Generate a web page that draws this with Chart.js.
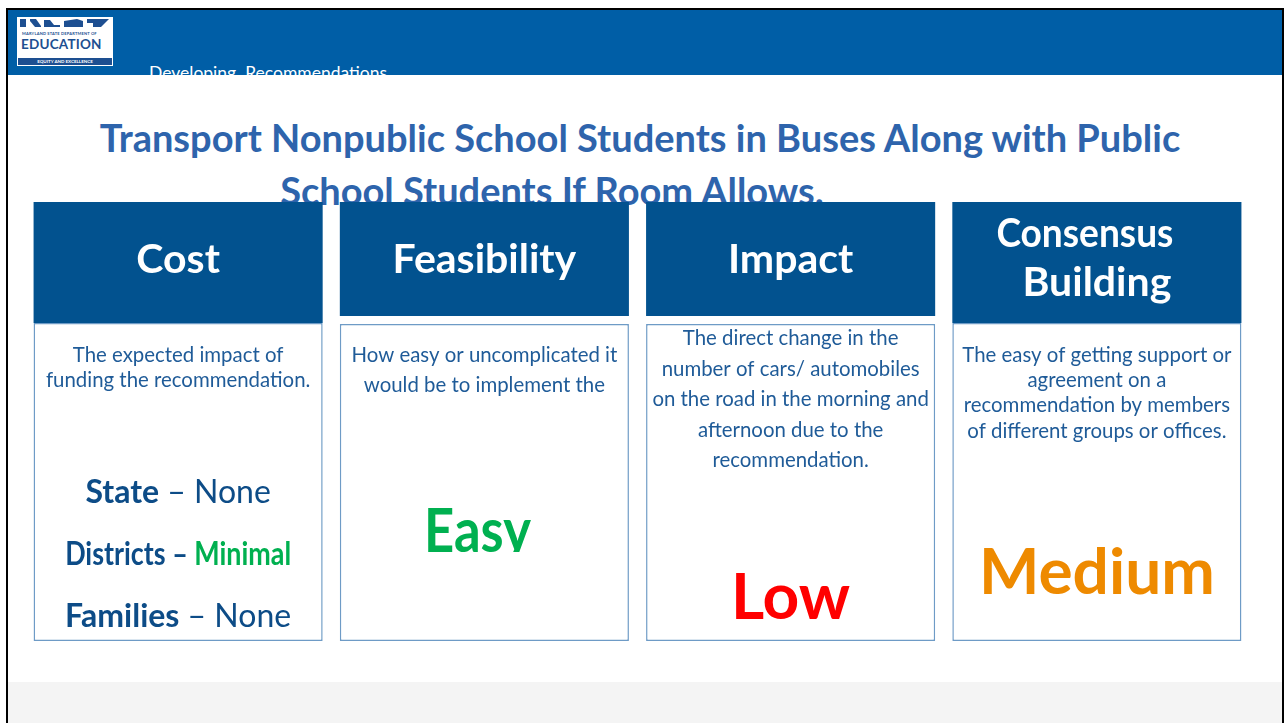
<!DOCTYPE html>
<html>
<head>
<meta charset="utf-8">
<script src="https://cdn.jsdelivr.net/npm/chart.js@4.4.1/dist/chart.umd.min.js"></script>
<style>
  html, body { margin: 0; padding: 0; background: #fff; }
  body { width: 1285px; height: 723px; position: relative; overflow: hidden; font-family: Lato, "Open Sans", sans-serif; }
  #frame { position: absolute; left: 6px; top: 8px; width: 1274px; height: 730px; border: 2px solid #000; border-bottom: none; }
  #band { position: absolute; left: 8px; top: 10px; width: 1274px; height: 65px; background: #005EA6; overflow: hidden; }
  #band .sub { position: absolute; left: 141px; top: 54px; color: #fff; font-size: 17.5px; line-height: 17.5px; white-space: nowrap; }
  #logo { position: absolute; left: 9px; top: 7px; width: 96px; height: 49px; background: #fff; }
  #logo .msd { position: absolute; left: 5px; top: 14px; font-size: 4px; letter-spacing: 0.2px; color: #1d4f91; white-space: nowrap; font-weight: bold; }
  #logo .edu { position: absolute; left: 4px; top: 20px; font-size: 13.5px; line-height: 14px; font-weight: bold; color: #1d4f91; letter-spacing: 0.2px; }
  #logo .eq { position: absolute; left: 1px; top: 41px; width: 94px; height: 7px; background: #1d4f91; color: #fff; font-size: 4.5px; line-height: 7px; text-align: center; font-weight: bold; }
  #gray { position: absolute; left: 8px; top: 682px; width: 1274px; height: 41px; background: #f4f4f4; }
  #title { position: absolute; left: 0; top: 112px; width: 1280px; text-align: center; color: #2E64AC; font-size: 38px; line-height: 50px; font-weight: bold; }
  #title .l2 { position: relative; left: -88px; top: 3px; }
  #c { position: absolute; left: 0; top: 0; z-index: 2; }
</style>
</head>
<body>
<div id="frame"></div>
<div id="band">
  <div id="logo">
    <svg width="96" height="14" style="position:absolute;left:0;top:0">
      <polygon fill="#1d4f91" points="3,2 9,2 9,10 3,10"/>
      <polygon fill="#1d4f91" points="13,2 19,2 24,9 24,10 18,10 13,4"/>
      <polygon fill="#1d4f91" points="27,3 33,3 37,8 43,8 43,10 27,10"/>
      <polygon fill="#1d4f91" points="47,4 60,2 66,4 66,10 47,10"/>
      <polygon fill="#1d4f91" points="70,2 92,2 88,6 84,10 76,10 76,6 70,6"/>
    </svg>
    <div class="msd">MARYLAND STATE DEPARTMENT OF</div>
    <div class="edu">EDUCATION</div>
    <div class="eq">EQUITY AND EXCELLENCE</div>
  </div>
  <div class="sub">Developing&nbsp; Recommendations</div>
</div>
<div id="gray"></div>
<div id="title">Transport Nonpublic School Students in Buses Along with Public<br><span class="l2">School Students If Room Allows.</span></div>
<canvas id="c" width="1285" height="723"></canvas>
<script>
const categories = ['Cost', 'Feasibility', 'Impact', 'Consensus Building'];
const headerLines = [['Cost'], ['Feasibility'], ['Impact'], ['Consensus', 'Building']];
const descriptions = [
  ['The expected impact of', 'funding the recommendation.'],
  ['How easy or uncomplicated it', 'would be to implement the'],
  ['The direct change in the', 'number of cars/ automobiles', 'on the road in the morning and', 'afternoon due to the', 'recommendation.'],
  ['The easy of getting support or', 'agreement on a', 'recommendation by members', 'of different groups or offices.']
];
const ratings = ['', 'Easy', 'Low', 'Medium'];
const ratingColors = ['', '#00B050', '#FF0000', '#EE8A00'];
const costGroups = ['State', 'Districts', 'Families'];
const costLevels = ['None', 'Minimal', 'None'];
const costLevelColors = ['#0D4C87', '#00B050', '#0D4C87'];

// box layout, in pixels above the bottom of the boxes
const yTop = 439;
const headerFloor = [318, 325, 325, 318];
const bodyTop = [318, 317, 317, 318];

const descColor = '#1F5B98';
const font = 'Lato, "Open Sans", sans-serif';

function drawRich(ctx, segs, cx, y, fitWidth) {
  let total = 0;
  segs.forEach(s => { ctx.font = s.font; s.w = ctx.measureText(s.text).width; total += s.w; });
  const k = fitWidth ? fitWidth / total : 1;
  ctx.save();
  ctx.translate(cx - total * k / 2, y);
  ctx.scale(k, 1);
  let x = 0;
  ctx.textAlign = 'left';
  segs.forEach(s => { ctx.font = s.font; ctx.fillStyle = s.color; ctx.fillText(s.text, x, 0); x += s.w; });
  ctx.restore();
}

const textPlugin = {
  id: 'boxText',
  afterDatasetsDraw(chart) {
    const ctx = chart.ctx;
    const xs = chart.scales.x, ys = chart.scales.y;
    const top = ys.getPixelForValue(yTop);
    ctx.save();
    ctx.textBaseline = 'alphabetic';
    categories.forEach((c, i) => {
      const cx = xs.getPixelForValue(i);
      // header
      const hl = headerLines[i];
      const hFont = 'bold 41px ' + font;
      if (hl.length === 1) {
        drawRich(ctx, [{ text: hl[0], font: hFont, color: '#fff' }], cx, top + 71);
      } else {
        drawRich(ctx, [{ text: hl[0], font: hFont, color: '#fff' }], cx - 12, top + 45, 177);
        drawRich(ctx, [{ text: hl[1], font: hFont, color: '#fff' }], cx, top + 94);
      }
      // description
      ctx.fillStyle = descColor;
      ctx.textAlign = 'center';
      ctx.font = '20.4px ' + font;
      const pitch = [25, 29.5, 30.5, 25.2][i];
      const first = [160, 160, 143, 160][i];
      descriptions[i].forEach((t, k) => ctx.fillText(t, cx, top + first + k * pitch));
    });
    // ratings
    ratings.forEach((r, i) => {
      if (!r) return;
      const cx = xs.getPixelForValue(i);
      const base = [0, 350, 417, 392][i];
      ctx.save();
      if (i === 1) {
        ctx.beginPath();
        ctx.rect(cx - 140, top + 280, 280, 70);
        ctx.clip();
        drawRich(ctx, [{ text: r, font: 'bold 62px ' + font, color: ratingColors[i] }], cx - 7, top + base, 107);
      } else {
        drawRich(ctx, [{ text: r, font: 'bold 64px ' + font, color: ratingColors[i] }], cx, top + base);
      }
      ctx.restore();
    });
    // cost breakdown
    const cx0 = xs.getPixelForValue(0);
    costGroups.forEach((g, k) => {
      const mid = k === 1;
      drawRich(ctx, [
        { text: g, font: 'bold 32px ' + font, color: '#0D4C87' },
        { text: ' \u2013 ', font: (mid ? 'bold ' : '') + '32px ' + font, color: '#0D4C87' },
        { text: costLevels[k], font: (mid ? 'bold ' : '') + '32px ' + font, color: costLevelColors[k] }
      ], cx0, top + 301 + k * 62, mid ? 226 : null);
    });
    ctx.restore();
  }
};

new Chart(document.getElementById('c'), {
  type: 'bar',
  data: {
    labels: categories,
    datasets: [
      {
        label: 'Header',
        data: categories.map((c, i) => [headerFloor[i], yTop]),
        backgroundColor: '#02528F',
        borderWidth: 0
      },
      {
        label: 'Description',
        data: categories.map((c, i) => [0, bodyTop[i]]),
        backgroundColor: '#ffffff',
        borderColor: '#6E9BC6',
        borderWidth: 1.5,
        borderSkipped: false
      }
    ]
  },
  options: {
    responsive: false,
    animation: false,
    grouped: false,
    barPercentage: 0.944,
    categoryPercentage: 1,
    layout: { padding: { left: 25, right: 35, top: 202, bottom: 82 } },
    plugins: { legend: { display: false }, tooltip: { enabled: false }, title: { display: false } },
    scales: {
      x: { display: false },
      y: { display: false, min: 0, max: yTop }
    }
  },
  plugins: [textPlugin]
});
</script>
</body>
</html>
